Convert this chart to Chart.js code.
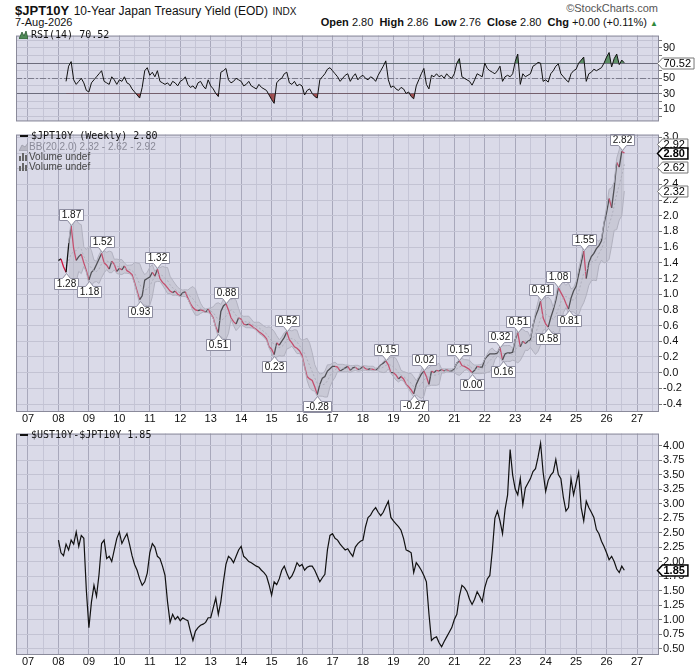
<!DOCTYPE html>
<html>
<head>
<meta charset="utf-8">
<script src="https://cdn.jsdelivr.net/npm/chart.js@4.4.1/dist/chart.umd.min.js"></script>
<style>
  html, body { margin: 0; padding: 0; background: #fff; }
  #wrap { position: relative; width: 700px; height: 670px; overflow: hidden; font-family: 'Liberation Sans', Arial, sans-serif; color: #111; }
  canvas { position: absolute; left: 0; }
  .txt { position: absolute; white-space: nowrap; line-height: 1; }
  .mono { font-family: 'DejaVu Sans Mono', monospace; font-size: 10px; }
  .lg svg { vertical-align: -1px; margin-right: 3px; }
</style>
</head>
<body>
<div id="wrap">
  <canvas id="rsi" width="700" height="101" style="top:28px"></canvas>
  <canvas id="price" width="700" height="301" style="top:127px"></canvas>
  <canvas id="spread" width="700" height="244" style="top:426px"></canvas>

  <div class="txt" style="left:15px;top:2px"><b style="font-size:13px">$JPT10Y</b> <span style="font-size:12px">10-Year Japan Treasury Yield (EOD)</span> <span style="font-size:10px">INDX</span></div>
  <div class="txt" style="right:42px;top:3px;font-size:11px;color:#555">©StockCharts.com</div>
  <div class="txt" style="left:15px;top:17px;font-size:11px">7-Aug-2026</div>
  <div class="txt" style="right:42px;top:17px;font-size:11px"><b>Open</b> 2.80&nbsp; <b>High</b> 2.86&nbsp; <b>Low</b> 2.76&nbsp; <b>Close</b> 2.80&nbsp; <b>Chg</b> +0.00 (+0.11%) <span style="color:#2f8a3a;font-size:8px">▲</span></div>

  <div class="txt lg mono" style="left:19px;top:30px"><svg width="9" height="9"><polygon points="0,9 3,2 5,6 7,1 9,9" fill="#4f8a57" stroke="#2d5a33" stroke-width="0.8"/></svg>RSI(14) 70.52</div>

  <div class="txt lg mono" style="left:20px;top:131px"><svg width="8" height="9"><line x1="0" y1="5" x2="8" y2="5" stroke="#111" stroke-width="2"/></svg>$JPT10Y (Weekly) 2.80</div>
  <div class="txt lg" style="left:19px;top:142px;font-size:10px;color:#8a8a98"><svg width="9" height="9" style="margin-right:1px"><polygon points="0,9 3,3 6,5 9,1 9,9" fill="#b8b8c4" stroke="#9a9aa8" stroke-width="0.8"/></svg>BB(20,2.0) 2.32 - 2.62 - 2.92</div>
  <div class="txt lg" style="left:19px;top:152px;font-size:10px;color:#444"><svg width="9" height="9" style="margin-right:1px"><rect x="0" y="4" width="2" height="5" fill="#666"/><rect x="3" y="1" width="2" height="8" fill="#666"/><rect x="6" y="3" width="2" height="6" fill="#666"/></svg>Volume undef</div>
  <div class="txt lg" style="left:19px;top:162px;font-size:10px;color:#444"><svg width="9" height="9" style="margin-right:1px"><rect x="0" y="4" width="2" height="5" fill="#666"/><rect x="3" y="1" width="2" height="8" fill="#666"/><rect x="6" y="3" width="2" height="6" fill="#666"/></svg>Volume undef</div>

  <div class="txt lg mono" style="left:20px;top:430px"><svg width="8" height="9"><line x1="0" y1="5" x2="8" y2="5" stroke="#111" stroke-width="2"/></svg>$UST10Y-$JPT10Y 1.85</div>
</div>

<script>
// monthly readings, first value is Jan 2008
const startYear = 2008;

const jgb10y = [
  1.43, 1.45, 1.35, 1.28, 1.62, 1.87, 1.58, 1.43, 1.48, 1.51, 1.40, 1.30, // 2008
  1.18, 1.28, 1.31, 1.38, 1.45, 1.52, 1.40, 1.37, 1.32, 1.42, 1.38, 1.29, // 2009
  1.33, 1.31, 1.36, 1.30, 1.28, 1.25, 1.15, 1.04, 0.93, 0.98, 1.18, 1.20, // 2010
  1.22, 1.28, 1.23, 1.32, 1.20, 1.15, 1.12, 1.08, 1.04, 1.02, 1.04, 1.00, // 2011
  0.98, 1.02, 1.03, 0.95, 0.88, 0.83, 0.80, 0.79, 0.80, 0.79, 0.77, 0.81, // 2012
  0.75, 0.70, 0.58, 0.51, 0.78, 0.85, 0.88, 0.80, 0.70, 0.65, 0.62, 0.70, // 2013
  0.68, 0.62, 0.61, 0.62, 0.60, 0.57, 0.55, 0.52, 0.50, 0.47, 0.43, 0.33, // 2014
  0.30, 0.23, 0.38, 0.35, 0.40, 0.45, 0.52, 0.42, 0.38, 0.33, 0.31, 0.28, // 2015
  0.22, 0.08, -0.05, -0.08, -0.10, -0.18, -0.28, -0.15, -0.07, -0.05, 0.02, 0.05, // 2016
  0.08, 0.08, 0.07, 0.02, 0.04, 0.06, 0.08, 0.03, 0.06, 0.07, 0.04, 0.05, // 2017
  0.08, 0.05, 0.04, 0.05, 0.04, 0.03, 0.06, 0.10, 0.12, 0.15, 0.10, 0.00, // 2018
  0.00, -0.03, -0.08, -0.05, -0.08, -0.15, -0.18, -0.22, -0.27, -0.15, -0.08, -0.02, // 2019
  0.02, -0.05, -0.15, 0.02, 0.00, 0.03, 0.02, 0.04, 0.02, 0.04, 0.02, 0.02, // 2020
  0.05, 0.12, 0.15, 0.09, 0.08, 0.06, 0.04, 0.00, 0.03, 0.08, 0.07, 0.07, // 2021
  0.17, 0.21, 0.24, 0.24, 0.24, 0.25, 0.32, 0.16, 0.24, 0.25, 0.25, 0.26, // 2022
  0.42, 0.51, 0.33, 0.40, 0.37, 0.40, 0.42, 0.60, 0.72, 0.80, 0.91, 0.70, // 2023
  0.62, 0.58, 0.70, 0.80, 0.92, 1.08, 1.02, 0.96, 0.88, 0.81, 0.95, 1.04, // 2024
  1.10, 1.25, 1.40, 1.55, 1.20, 1.40, 1.48, 1.52, 1.58, 1.62, 1.68, 1.90, // 2025
  2.04, 2.22, 2.10, 2.35, 2.68, 2.62, 2.82, 2.80                          // 2026
];

const rsi14 = [
  null, null, null, 46, 66, 72, 48, 42, 46, 50, 44, 34,
  32, 44, 48, 52, 56, 60, 46, 44, 42, 52, 48, 42,
  48, 46, 52, 44, 42, 36, 32, 28, 24, 38, 60, 64,
  54, 58, 52, 60, 46, 44, 42, 44, 40, 46, 44, 40,
  46, 48, 52, 42, 38, 40, 36, 44, 46, 40, 36, 48,
  40, 36, 30, 26, 58, 60, 63, 48, 44, 46, 50, 48,
  46, 40, 42, 46, 40, 38, 36, 42, 38, 36, 34, 28,
  22, 17, 44, 48, 50, 56, 58, 44, 42, 46, 40, 42,
  40, 28, 34, 36, 30, 26, 24, 48, 52, 56, 62, 64,
  60, 56, 52, 46, 50, 54, 56, 46, 52, 56, 48, 52,
  54, 50, 48, 52, 50, 46, 54, 60, 66, 73, 48, 38,
  40, 36, 34, 38, 36, 30, 32, 26, 23, 40, 48, 56,
  63, 42, 36, 54, 52, 56, 52, 54, 50, 56, 52, 50,
  56, 70, 76, 52, 50, 48, 46, 41, 48, 56, 54, 52,
  70, 63, 60, 58, 56, 60, 66, 46, 52, 54, 52, 56,
  72, 82, 42, 56, 52, 54, 56, 66, 68, 71, 70, 46,
  48, 45, 56, 60, 66, 69, 56, 52, 48, 45, 56, 60,
  62, 70, 74, 78, 46, 56, 58, 62, 60, 62, 64, 70,
  78, 84, 65, 76, 82, 68, 74, 70.52
];

const ustJgbSpread = [
  2.37, 2.15, 2.10, 2.30, 2.20, 2.37, 2.30, 2.51, 2.26, 2.45, 2.40, 1.50,
  0.86, 1.30, 1.59, 1.40, 1.78, 2.31, 2.37, 2.05, 2.09, 2.00, 2.20, 2.40,
  2.51, 2.31, 2.40, 2.48, 2.30, 2.10, 1.95, 1.85, 1.70, 1.59, 1.65, 1.80,
  2.15, 2.31, 2.25, 2.09, 2.05, 1.92, 1.76, 1.30, 0.95, 1.09, 1.00, 1.05,
  0.98, 1.03, 1.00, 0.98, 0.80, 0.64, 0.80, 0.86, 0.90, 0.92, 0.95, 1.03,
  1.03, 1.20, 1.37, 1.09, 1.31, 1.65, 1.95, 2.09, 2.05, 1.98, 2.09, 2.20,
  2.26, 2.09, 2.05, 2.00, 1.98, 1.95, 1.92, 1.90, 1.85, 1.81, 1.75, 1.60,
  1.42, 1.65, 1.60, 1.70, 1.85, 1.92, 1.80, 1.70, 1.75, 1.85, 1.98, 1.92,
  1.95, 1.85, 1.90, 1.92, 1.92, 1.85, 1.75, 1.65, 1.72, 1.78, 2.20, 2.45,
  2.48, 2.40, 2.37, 2.30, 2.25, 2.20, 2.22, 2.15, 2.09, 2.25, 2.31, 2.35,
  2.37, 2.60, 2.76, 2.80, 2.88, 2.93, 2.85, 2.79, 2.85, 2.95, 3.04, 2.76,
  2.70, 2.65, 2.60, 2.54, 2.40, 2.20, 2.18, 2.15, 1.81, 1.98, 1.92, 1.85,
  1.76, 1.65, 1.10, 0.64, 0.68, 0.70, 0.60, 0.53, 0.62, 0.70, 0.78, 0.86,
  1.00, 1.09, 1.40, 1.59, 1.55, 1.48, 1.35, 1.26, 1.35, 1.48, 1.40, 1.31,
  1.55, 1.70, 1.76, 2.20, 2.75, 2.87, 2.70, 2.48, 2.90, 3.15, 3.93, 3.49,
  3.25, 3.15, 3.43, 2.98, 3.27, 3.35, 3.43, 3.55, 3.60, 3.80, 4.04, 3.54,
  3.21, 3.40, 3.49, 3.54, 3.76, 3.50, 3.43, 3.10, 2.87, 2.93, 3.43, 3.15,
  3.35, 3.54, 2.93, 2.70, 3.04, 2.93, 2.85, 2.76, 2.55, 2.48, 2.35, 2.26,
  2.15, 2.03, 2.09, 2.00, 1.87, 1.81, 1.92, 1.85
];

// swing labels on the yield line
const peakMonths = ['2008-04', '2008-06', '2009-01', '2009-06', '2010-09', '2011-04', '2013-04', '2013-07',
  '2015-02', '2015-07', '2016-07', '2018-10', '2019-09', '2020-01', '2021-03', '2021-08', '2022-07',
  '2022-08', '2023-02', '2023-11', '2024-02', '2024-06', '2024-10', '2025-04', '2026-07'];
const peakSides = ['L', 'H', 'L', 'H', 'L', 'H', 'L', 'H', 'L', 'H', 'L', 'H', 'L', 'H', 'H', 'L', 'H',
  'L', 'H', 'H', 'L', 'H', 'L', 'H', 'H'];

const yearLabels = ['07', '08', '09', '10', '11', '12', '13', '14', '15', '16', '17',
  '18', '19', '20', '21', '22', '23', '24', '25', '26', '27'];
const rsiTicks = [0, 10, 20, 30, 40, 50, 60, 70, 80, 90, 100];
const priceTicks = [-0.4, -0.2, 0, 0.2, 0.4, 0.6, 0.8, 1.0, 1.2, 1.4, 1.6, 1.8, 2.0, 2.2, 2.4, 2.6, 2.8, 3.0];
const spreadTicks = [0.5, 0.75, 1.0, 1.25, 1.5, 1.75, 2.0, 2.25, 2.5, 2.75, 3.0, 3.25, 3.5, 3.75, 4.0];

const lastRsi = 70.52;
const lastClose = 2.80;
const bbLast = [2.32, 2.62, 2.92];
const lastSpread = 1.85;

const monthX = i => startYear + i / 12;
const monthIndex = m => (Number(m.slice(0, 4)) - startYear) * 12 + Number(m.slice(5, 7)) - 1;
const pts = arr => arr.map((v, i) => ({ x: monthX(i), y: v }));

function bollinger(values, n, k) {
  const up = [], mid = [], lo = [];
  values.forEach((v, i) => {
    if (i < n - 1) { up.push(null); mid.push(null); lo.push(null); return; }
    const win = values.slice(i - n + 1, i + 1);
    const m = win.reduce((a, b) => a + b, 0) / n;
    const sd = Math.sqrt(win.reduce((a, b) => a + (b - m) ** 2, 0) / n);
    up.push(m + k * sd); mid.push(m); lo.push(m - k * sd);
  });
  return { up, mid, lo };
}
const bb = bollinger(jgb10y, 5, 2);

Chart.defaults.font.family = "'Liberation Sans', Arial, sans-serif";
Chart.defaults.font.size = 11;
Chart.defaults.color = '#111';

const xScale = (showLabels, h) => ({
  type: 'linear',
  min: 2006.606,
  max: 2027.722,
  afterBuildTicks: s => {
    s.ticks = [];
    for (let v = 2007; v <= 2027.5; v += 0.5) s.ticks.push({ value: v });
  },
  afterFit: s => { s.height = h; },
  border: { display: false },
  grid: {
    color: c => (c.tick && Number.isInteger(c.tick.value)) ? '#a8a8bb' : '#c5c5d6',
    drawTicks: false
  },
  ticks: {
    display: showLabels, padding: 0, maxRotation: 0, autoSkip: false,
    callback: v => Number.isInteger(v) ? yearLabels[v - 2007] : ''
  }
});

const yScale = (min, max, ticks, fmt) => ({
  position: 'right',
  min, max,
  afterBuildTicks: s => { s.ticks = ticks.map(v => ({ value: v })); },
  afterFit: s => { s.width = 41; },
  border: { display: false },
  grid: { color: '#c3c3d3', tickLength: 3, tickColor: '#777' },
  ticks: { padding: 1, autoSkip: false, callback: fmt }
});

const panelBg = {
  id: 'panelBg',
  beforeDraw(chart) {
    const { ctx, chartArea: a } = chart;
    ctx.save();
    ctx.fillStyle = '#dadae8';
    ctx.fillRect(a.left, a.top, a.right - a.left, a.bottom - a.top);
    ctx.restore();
  },
  afterDraw(chart) {
    const { ctx, chartArea: a } = chart;
    ctx.save();
    ctx.strokeStyle = '#8a8a9a';
    ctx.lineWidth = 1;
    ctx.strokeRect(a.left + 0.5, a.top + 0.5, a.right - a.left - 1, a.bottom - a.top - 1);
    ctx.restore();
  }
};

function axisTag(chart, value, text, bold) {
  const { ctx, chartArea, scales: { y } } = chart;
  const py = Math.round(y.getPixelForValue(value)) + 0.5;
  const x0 = chartArea.right - 1.5;
  ctx.save();
  ctx.font = (bold ? 'bold ' : '') + "11px 'Liberation Sans', Arial";
  const w = ctx.measureText(text).width + 9;
  const h = 11;
  ctx.beginPath();
  ctx.moveTo(x0, py);
  ctx.lineTo(x0 + 5, py - h / 2);
  ctx.lineTo(x0 + w, py - h / 2);
  ctx.lineTo(x0 + w, py + h / 2);
  ctx.lineTo(x0 + 5, py + h / 2);
  ctx.closePath();
  ctx.fillStyle = '#fff';
  ctx.fill();
  ctx.lineWidth = bold ? 1.5 : 1;
  ctx.strokeStyle = bold ? '#000' : '#777';
  ctx.stroke();
  ctx.fillStyle = '#000';
  ctx.textBaseline = 'middle';
  ctx.fillText(text, x0 + 6, py + 0.5);
  ctx.restore();
}

const tagsPlugin = tags => ({
  id: 'tags',
  afterDraw(chart) { tags.forEach(t => axisTag(chart, t[0], t[0].toFixed(2), t[1])); }
});

const rsiLevels = {
  id: 'rsiLevels',
  beforeDatasetsDraw(chart) {
    const { ctx, chartArea: a, scales: { y } } = chart;
    ctx.save();
    ctx.lineWidth = 1;
    [[70, []], [30, []], [50, [6, 2, 2, 2]]].forEach(([lv, dash]) => {
      const py = Math.round(y.getPixelForValue(lv)) + 0.5;
      ctx.setLineDash(dash);
      ctx.strokeStyle = lv === 50 ? '#7c7c8c' : '#6c6c7c';
      ctx.beginPath();
      ctx.moveTo(a.left, py);
      ctx.lineTo(a.right, py);
      ctx.stroke();
    });
    ctx.restore();
  }
};

const peakLabels = {
  id: 'peakLabels',
  afterDatasetsDraw(chart) {
    const { ctx, scales: { x, y } } = chart;
    ctx.save();
    ctx.font = "10px 'Liberation Sans', Arial";
    ctx.textAlign = 'center';
    ctx.textBaseline = 'middle';
    peakMonths.forEach((m, k) => {
      const i = monthIndex(m);
      const v = jgb10y[i];
      const px = Math.round(x.getPixelForValue(monthX(i))) + 0.5;
      const py = Math.round(y.getPixelForValue(v)) + 0.5;
      const txt = v.toFixed(2);
      const w = Math.round(ctx.measureText(txt).width) + 5;
      const h = 11;
      const hi = peakSides[k] === 'H';
      const s = hi ? -1 : 1;
      const tip = py + s * 1;
      const base = tip + s * 5;
      const far = base + s * h;
      const l = px - Math.round(w / 2), r = l + w;
      ctx.beginPath();
      ctx.moveTo(px, tip);
      ctx.lineTo(px + 4, base);
      ctx.lineTo(r, base);
      ctx.lineTo(r, far);
      ctx.lineTo(l, far);
      ctx.lineTo(l, base);
      ctx.lineTo(px - 4, base);
      ctx.closePath();
      ctx.fillStyle = '#fff';
      ctx.fill();
      ctx.strokeStyle = '#8d8da0';
      ctx.lineWidth = 1;
      ctx.stroke();
      ctx.fillStyle = '#111';
      ctx.fillText(txt, px, (base + far) / 2 + 0.5);
    });
    ctx.restore();
  }
};

const baseOpts = (xs, ys) => ({
  responsive: false,
  animation: false,
  events: [],
  layout: { padding: { left: 16, top: 1, right: 0, bottom: 0 } },
  plugins: { legend: { display: false }, tooltip: { enabled: false } },
  elements: { point: { radius: 0 }, line: { tension: 0 } },
  scales: { x: xs, y: ys }
});

new Chart(document.getElementById('rsi'), {
  type: 'line',
  data: {
    datasets: [
      {
        data: pts(rsi14), borderColor: '#111', borderWidth: 1, order: 0,
        fill: { target: { value: 70 }, above: 'rgba(70,130,80,0.85)', below: 'rgba(0,0,0,0)' }
      },
      {
        data: pts(rsi14), borderColor: 'rgba(0,0,0,0)', borderWidth: 0, order: 1,
        fill: { target: { value: 30 }, above: 'rgba(0,0,0,0)', below: 'rgba(150,55,55,0.85)' }
      }
    ]
  },
  options: baseOpts(xScale(false, 0), yScale(-6.8, 106.3, rsiTicks, v => (v % 20 === 10 ? String(v) : ''))),
  plugins: [panelBg, rsiLevels, tagsPlugin([[lastRsi, false]])]
});

new Chart(document.getElementById('price'), {
  type: 'line',
  data: {
    datasets: [
      { data: pts(bb.up), borderColor: '#b2b2c0', borderWidth: 1, fill: '+1', backgroundColor: 'rgba(175,175,188,0.4)' },
      { data: pts(bb.lo), borderColor: '#b2b2c0', borderWidth: 1, fill: false },
      { data: pts(bb.mid), borderColor: 'rgba(165,165,178,0.8)', borderWidth: 1, borderDash: [2, 2], fill: false },
      {
        data: pts(jgb10y), borderWidth: 1.3, fill: false,
        segment: { borderColor: c => (c.p1.parsed.y < c.p0.parsed.y ? '#d2123c' : '#111') }
      }
    ]
  },
  options: baseOpts(xScale(true, 16), yScale(-0.502, 3.035, priceTicks, v => v.toFixed(1))),
  plugins: [panelBg, peakLabels,
    tagsPlugin([[bbLast[2], false], [bbLast[1], false], [bbLast[0], false], [lastClose, true]])]
});

new Chart(document.getElementById('spread'), {
  type: 'line',
  data: {
    datasets: [{ data: pts(ustJgbSpread), borderColor: '#111', borderWidth: 1.2, fill: false }]
  },
  options: baseOpts(xScale(true, 15), yScale(0.388, 4.206, spreadTicks, v => v.toFixed(2))),
  plugins: [panelBg, tagsPlugin([[lastSpread, true]])]
});
</script>
</body>
</html>
